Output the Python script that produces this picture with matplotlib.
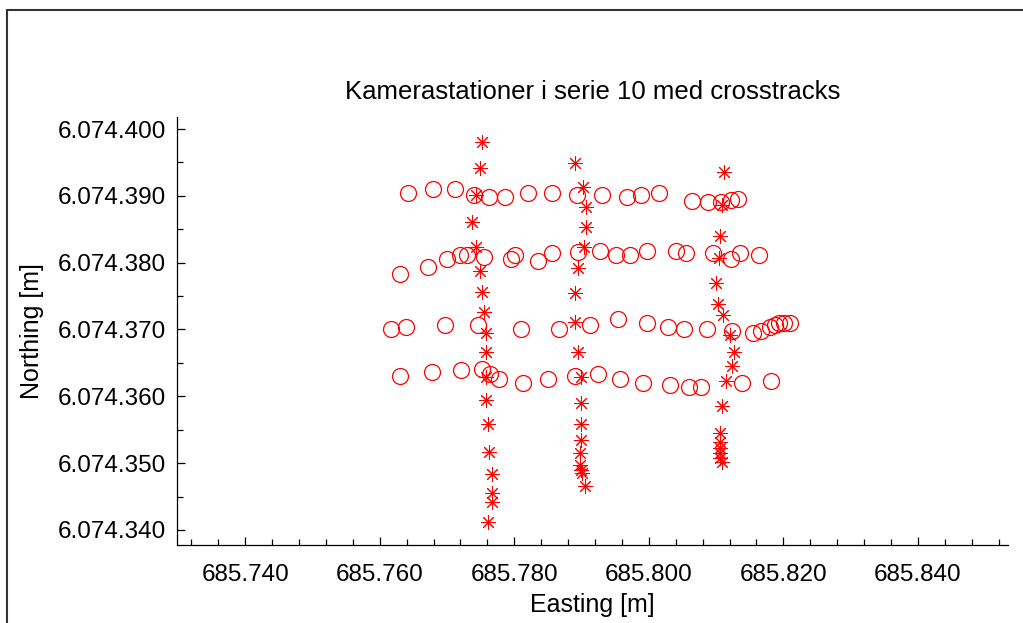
import matplotlib
matplotlib.use("Agg")
import matplotlib.pyplot as plt
from matplotlib.patches import Rectangle
from matplotlib.ticker import FuncFormatter, MultipleLocator

plt.rcParams["font.family"] = ["Liberation Sans", "DejaVu Sans"]

# kamerastationer (cirkler), fire striber
east_r1 = [685764.26, 685767.98, 685771.16, 685774.07, 685776.30, 685778.63, 685782.10, 685785.57, 685789.29,
           685793.09, 685796.81, 685798.84, 685801.47, 685806.37, 685808.84, 685810.73, 685812.17, 685813.30]
north_r1 = [6074390.42, 6074391.02, 6074391.02, 6074390.16, 6074389.82, 6074389.82, 6074390.42, 6074390.42, 6074390.16,
            6074390.16, 6074389.86, 6074390.12, 6074390.42, 6074389.26, 6074389.01, 6074389.01, 6074389.37, 6074389.56]

east_r2 = [685763.03, 685767.12, 685770.01, 685771.95, 685772.99, 685775.51, 685779.45, 685780.12, 685783.58, 685785.57,
           685789.48, 685792.75, 685795.08, 685797.21, 685799.73, 685804.04, 685805.48, 685809.58, 685812.17, 685813.55,
           685816.42]
north_r2 = [6074378.33, 6074379.42, 6074380.58, 6074381.13, 6074381.10, 6074380.80, 6074380.53, 6074381.10, 6074380.28,
            6074381.48, 6074381.67, 6074381.73, 6074381.13, 6074381.13, 6074381.78, 6074381.73, 6074381.43, 6074381.48,
            6074380.53, 6074381.43, 6074381.13]

east_r3 = [685761.65, 685763.92, 685769.72, 685774.58, 685780.97, 685786.70, 685791.26, 685795.38, 685799.69, 685802.90,
           685805.19, 685808.65, 685812.36, 685815.53, 685816.72, 685818.05, 685818.83, 685819.42, 685820.13, 685820.98]
north_r3 = [6074370.05, 6074370.40, 6074370.69, 6074370.69, 6074370.05, 6074370.05, 6074370.65, 6074371.55, 6074370.95,
            6074370.40, 6074370.05, 6074370.05, 6074369.84, 6074369.50, 6074369.75, 6074370.32, 6074370.69, 6074370.95,
            6074370.99, 6074370.95]

east_r4 = [685763.03, 685767.71, 685772.05, 685775.22, 685776.36, 685777.79, 685781.26, 685785.02, 685789.03, 685792.50,
           685795.65, 685799.09, 685803.15, 685806.02, 685807.80, 685813.85, 685818.16]
north_r4 = [6074363.10, 6074363.69, 6074363.96, 6074364.06, 6074363.36, 6074362.53, 6074361.96, 6074362.53, 6074363.10,
            6074363.40, 6074362.56, 6074361.96, 6074361.67, 6074361.37, 6074361.37, 6074361.93, 6074362.23]

# crosstracks (stjerner), tre lodrette linjer
east_c1 = [685775.17, 685774.87, 685774.32, 685773.68, 685774.32, 685774.87, 685775.17, 685775.47, 685775.81,
           685775.81, 685775.81, 685775.74, 685776.06, 685776.30, 685776.66, 685776.66, 685776.66, 685776.06]
north_c1 = [6074397.99, 6074394.20, 6074390.16, 6074386.07, 6074382.30, 6074378.78, 6074375.56, 6074372.69, 6074369.54,
            6074366.65, 6074362.91, 6074359.39, 6074355.87, 6074351.72, 6074348.38, 6074345.58, 6074344.23, 6074341.24]

east_c2 = [685789.03, 685790.18, 685790.67, 685790.67, 685790.30, 685789.41, 685789.03, 685789.03, 685789.48,
           685789.88, 685789.88, 685789.88, 685789.88, 685789.78, 685789.78, 685789.88, 685790.03, 685790.52]
north_c2 = [6074394.91, 6074391.28, 6074388.32, 6074385.41, 6074382.33, 6074379.19, 6074375.44, 6074371.07, 6074366.62,
            6074362.91, 6074359.06, 6074355.87, 6074353.47, 6074351.48, 6074349.73, 6074348.98, 6074348.49, 6074346.59]

east_c3 = [685811.20, 685810.91, 685810.58, 685810.40, 685810.06, 685810.33, 685810.98, 685812.07, 685812.66,
           685812.32, 685811.47, 685810.91, 685810.58, 685810.58, 685810.58, 685810.58, 685810.58, 685810.83]
north_c3 = [6074393.61, 6074388.62, 6074383.98, 6074380.68, 6074377.03, 6074373.88, 6074372.19, 6074369.15, 6074366.70,
            6074364.51, 6074362.35, 6074358.52, 6074354.48, 6074353.22, 6074352.23, 6074351.48, 6074350.73, 6074350.22]

x_limits = (685729.9, 685853.4)
y_limits = (6074337.75, 6074401.8)


def dk_thousands(v, pos):
    return f"{v:,.0f}".replace(",", ".")


fig = plt.figure(figsize=(10.23, 6.23), dpi=100)
fig.patch.set_facecolor("white")
ax = fig.add_axes([0.1733, 0.1252, 0.8120, 0.6870])

red = "#ff0000"
for ex, no in [(east_r1, north_r1), (east_r2, north_r2), (east_r3, north_r3), (east_r4, north_r4)]:
    ax.plot(ex, no, linestyle="none", marker="o", markersize=11.5, markerfacecolor="none",
            markeredgecolor=red, markeredgewidth=0.9)
for ex, no in [(east_c1, north_c1), (east_c2, north_c2), (east_c3, north_c3)]:
    ax.plot(ex, no, linestyle="none", marker=(8, 2, 0), markersize=10.5, markeredgecolor=red,
            markeredgewidth=0.75)

ax.set_xlim(*x_limits)
ax.set_ylim(*y_limits)

ax.spines["top"].set_visible(False)
ax.spines["right"].set_visible(False)
ax.spines["left"].set_linewidth(0.9)
ax.spines["bottom"].set_linewidth(0.9)

ax.xaxis.set_major_locator(MultipleLocator(20))
ax.xaxis.set_minor_locator(MultipleLocator(4))
ax.yaxis.set_major_locator(MultipleLocator(10))
ax.yaxis.set_minor_locator(MultipleLocator(5))
ax.xaxis.set_major_formatter(FuncFormatter(dk_thousands))
ax.yaxis.set_major_formatter(FuncFormatter(dk_thousands))

ax.tick_params(which="both", direction="in", top=False, right=False, width=0.9)
ax.tick_params(which="major", length=6)
ax.tick_params(which="minor", length=4)
ax.tick_params(axis="x", which="major", labelsize=17.5, pad=14)
ax.tick_params(axis="y", which="major", labelsize=17.5, pad=8)

ax.set_title("Kamerastationer i serie 10 med crosstracks", fontsize=18.5, pad=13)
ax.set_xlabel("Easting [m]", fontsize=18, labelpad=5)
ax.set_ylabel("Northing [m]", fontsize=18, labelpad=10)

fig.patches.append(Rectangle((7.3 / 1023, -0.2), 1.2, 0.2 + (623 - 10) / 623, transform=fig.transFigure,
                             fill=False, edgecolor="#333333", linewidth=1.5))

fig.savefig("out.png", dpi=100, facecolor="white")
